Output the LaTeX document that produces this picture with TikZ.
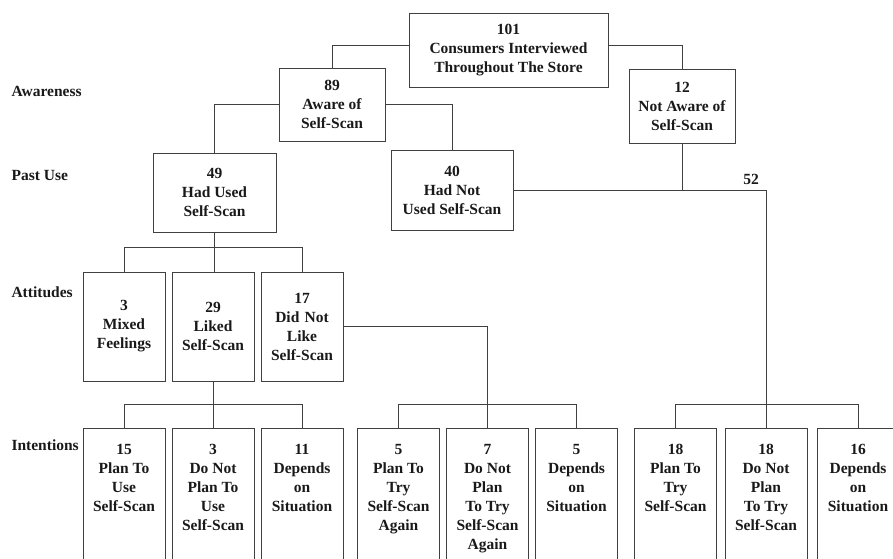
\documentclass[tikz,border=0pt]{standalone}
\usepackage{fontspec}
\setmainfont{Liberation Serif}
\newcommand{\toptext}[1]{\parbox[t][130pt][t]{80pt}{\centering #1}}

\begin{document}
\begin{tikzpicture}[x=1pt, y=-1pt
            , every node/.style={font=\fontsize{15.5}{19}\selectfont\bfseries, text=black!90},
            box/.style={draw=black!75, line width=1pt, inner sep=2pt},
            midbox/.style={box, align=center},
            attbox/.style={box, align=center, text width=78pt, minimum height=109pt},
            leaf/.style={box, anchor=north, inner xsep=1pt, inner ysep=16pt},
            level/.style={anchor=west},
            link/.style={draw=black!75, line width=1pt}]
        \clip (0,0) rectangle (893,558);
        \node[midbox, minimum width=199pt, minimum height=74pt] (root) at (508.5,50) {101\\Consumers Interviewed\\Throughout The Store};
        \node[midbox, minimum width=106pt, minimum height=73pt] (aw) at (332,104.5) {89\\Aware of\\Self-Scan};
        \node[midbox, minimum width=106pt, minimum height=74pt] (naw) at (682,106) {12\\Not Aware of\\Self-Scan};
        \node[midbox, minimum width=123pt, minimum height=79pt] (used) at (214.5,192.5) {49\\Had Used\\Self-Scan};
        \node[midbox, minimum width=122pt, minimum height=80pt] (notused) at (452,190) {40\\Had Not\\Used Self-Scan};
        \node[attbox] (att1) at (124,326.5) {3\\Mixed\\Feelings};
        \node[attbox] (att2) at (213,326.5) {29\\Liked\\Self-Scan};
        \node[attbox] (att3) at (302,326.5) {17\\Did Not\\Like\\Self-Scan};
        \node[leaf] (i1) at (124,428) {\toptext{15\\Plan To\\Use\\Self-Scan}};
        \node[leaf] (i2) at (213,428) {\toptext{3\\Do Not\\Plan To\\Use\\Self-Scan}};
        \node[leaf] (i3) at (302,428) {\toptext{11\\Depends\\on\\Situation}};
        \node[leaf] (i4) at (398.5,428) {\toptext{5\\Plan To\\Try\\Self-Scan\\Again}};
        \node[leaf] (i5) at (487.5,428) {\toptext{7\\Do Not\\Plan\\To Try\\Self-Scan\\Again}};
        \node[leaf] (i6) at (576.5,428) {\toptext{5\\Depends\\on\\Situation}};
        \node[leaf] (i7) at (675.5,428) {\toptext{18\\Plan To\\Try\\Self-Scan}};
        \node[leaf] (i8) at (766,428) {\toptext{18\\Do Not\\Plan\\To Try\\Self-Scan}};
        \node[leaf] (i9) at (858,428) {\toptext{16\\Depends\\on\\Situation}};
        \node[level] (lvaware) at (8,91) {Awareness};
        \node[level] (lvpast) at (8,175) {Past Use};
        \node[level] (lvatt) at (8,292) {Attitudes};
        \node[level] (lvint) at (8,445) {Intentions};
        \node (n52) at (751,179) {52};
        \draw[link] ([yshift=5pt]root.west) -| (aw.north);
        \draw[link] ([yshift=5pt]root.east) -| (naw.north);
        \draw[link] (aw.west) -| (used.north);
        \draw[link] (aw.east) -| (notused.north);
        \draw[link] (naw.south) -- (naw.south |- notused.east);
        \draw[link] (notused.east) -| (i8.north);
        \draw[link] (used.south) -- (used.south |- att2.north);
        \draw[link] (att1.north) -- ++(0,-24) -| (att3.north);
        \draw[link] (att2.south) -- (i2.north);
        \draw[link] (i1.north) -- ++(0,-24) -| (i3.north);
        \draw[link] (att3.east) -| (i5.north);
        \draw[link] (i4.north) -- ++(0,-24) -| (i6.north);
        \draw[link] (i7.north) -- ++(0,-24) -| (i9.north);
        \end{tikzpicture}
\end{document}
